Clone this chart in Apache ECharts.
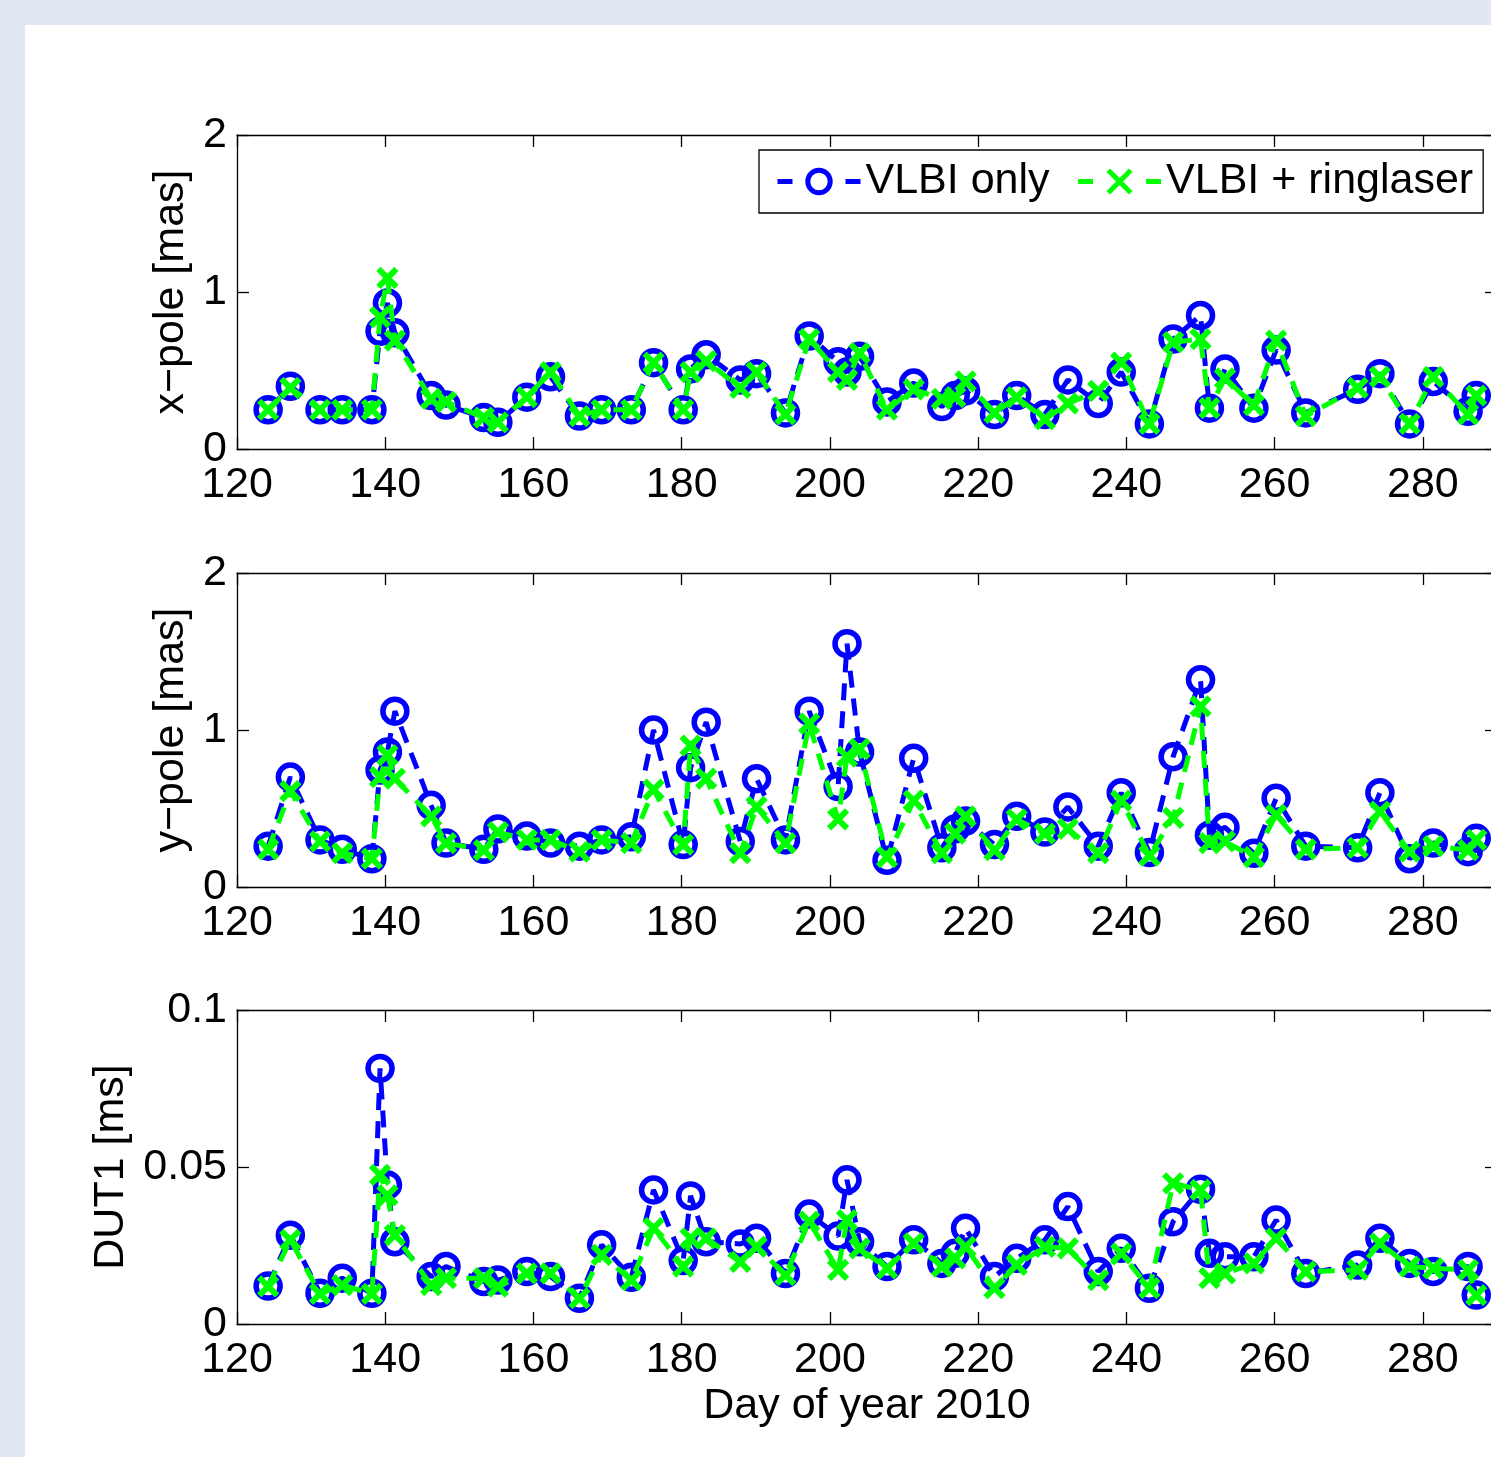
<!DOCTYPE html>
<html><head><meta charset="utf-8">
<script src="https://cdn.jsdelivr.net/npm/echarts@6/dist/echarts.min.js"></script>
<style>
html,body{margin:0;padding:0;background:#e1e7f3;overflow:hidden;width:1491px;height:1457px}
#c{position:absolute;left:25px;top:25px;width:1520px;height:1432px;background:#fff}
</style>
</head><body><div id="c"></div><script>
// Day of year 2010 (session epochs)
const days = [124.2,127.2,131.2,134.2,138.2,139.3,140.3,141.3,146.2,148.2,153.3,155.2,159.1,162.3,166.2,169.2,173.2,176.2,180.2,181.2,183.3,187.9,190.1,194.0,197.2,201.1,202.3,204.0,207.7,211.3,215.1,216.9,218.3,222.2,225.2,229.0,232.1,236.2,239.3,243.1,246.3,250.0,251.2,253.3,257.2,260.2,264.2,271.2,274.2,278.2,281.4,286.1,287.2];
// x-pole [mas]
const xpVLBI = [0.25,0.40,0.25,0.25,0.25,0.75,0.93,0.74,0.34,0.28,0.20,0.17,0.33,0.46,0.21,0.25,0.25,0.55,0.25,0.51,0.60,0.44,0.48,0.23,0.72,0.556,0.49,0.59,0.30,0.42,0.27,0.34,0.37,0.22,0.34,0.22,0.44,0.29,0.49,0.16,0.70,0.85,0.26,0.51,0.26,0.63,0.23,0.38,0.48,0.16,0.43,0.24,0.34];
const xpRing = [0.25,0.39,0.25,0.25,0.25,0.84,1.09,0.69,0.32,0.30,0.20,0.17,0.33,0.49,0.21,0.25,0.25,0.55,0.25,0.49,0.56,0.39,0.49,0.22,0.70,0.49,0.44,0.61,0.25,0.38,0.32,0.33,0.43,0.23,0.33,0.19,0.29,0.37,0.55,0.16,0.68,0.70,0.26,0.45,0.28,0.69,0.21,0.39,0.46,0.16,0.46,0.22,0.34];
// y-pole [mas]
const ypVLBI = [0.26,0.70,0.30,0.24,0.18,0.745,0.86,1.12,0.52,0.28,0.24,0.37,0.325,0.28,0.26,0.30,0.32,1.00,0.27,0.76,1.05,0.29,0.69,0.30,1.12,0.64,1.55,0.86,0.17,0.82,0.25,0.37,0.42,0.27,0.45,0.35,0.51,0.26,0.60,0.22,0.83,1.32,0.33,0.38,0.215,0.565,0.26,0.25,0.60,0.18,0.28,0.225,0.31];
const ypRing = [0.24,0.61,0.29,0.215,0.18,0.70,0.84,0.69,0.45,0.28,0.235,0.35,0.30,0.30,0.225,0.30,0.28,0.62,0.27,0.90,0.69,0.215,0.51,0.28,1.04,0.43,0.83,0.88,0.19,0.55,0.215,0.34,0.45,0.235,0.43,0.34,0.37,0.215,0.55,0.20,0.44,1.15,0.28,0.29,0.19,0.46,0.24,0.25,0.48,0.225,0.26,0.235,0.30];
// DUT1 [ms]
const dutVLBI = [0.0121,0.0283,0.0098,0.0146,0.0098,0.0814,0.0443,0.0262,0.0151,0.0183,0.0135,0.0140,0.0167,0.0151,0.0082,0.0252,0.0149,0.0427,0.0202,0.0408,0.0262,0.0255,0.0273,0.0161,0.0350,0.0280,0.0459,0.0262,0.0183,0.0268,0.0193,0.0225,0.0305,0.0151,0.0209,0.0268,0.0374,0.0167,0.0241,0.0114,0.0326,0.0429,0.0225,0.0214,0.0214,0.0331,0.0161,0.0188,0.0273,0.0193,0.0167,0.0183,0.0092];
const dutRing = [0.0120,0.0268,0.0096,0.0124,0.0096,0.0475,0.0410,0.0283,0.0124,0.0146,0.0146,0.0119,0.0161,0.0161,0.0082,0.0220,0.0140,0.0305,0.0183,0.0273,0.0273,0.0198,0.0246,0.0156,0.0326,0.0172,0.0331,0.0241,0.0177,0.0257,0.0183,0.0209,0.0246,0.0114,0.0188,0.0246,0.0241,0.0140,0.0225,0.0114,0.0448,0.0427,0.0146,0.0161,0.0193,0.0273,0.0167,0.0172,0.0257,0.0183,0.0177,0.0172,0.0092];
const xTicks = [120,140,160,180,200,220,240,260,280];
const yNames = ['x\u2212pole [mas]','y\u2212pole [mas]','DUT1 [ms]'];
const yMax = [2,2,0.1];
const yInterval = [1,1,0.05];
const xLabel = 'Day of year 2010';

const FONT = 'Liberation Sans, Arial, Helvetica, sans-serif';
const FS = 43;
const panelTops = [110,548,985];
const gridH = 314, gridL = 212, gridW = 1260;
const nameGaps = [44,44,102];

const grids = [], xAxes = [], yAxes = [], series = [];
const tickStyle = {inside:true,length:12,lineStyle:{color:'#000',width:1.3}};
const lineAx = {show:true,onZero:false,lineStyle:{color:'#000',width:1.3}};
for (let i=0;i<3;i++){
  grids.push({left:gridL,top:panelTops[i],width:gridW,height:gridH,show:false});
  xAxes.push({type:'value',gridIndex:i,position:'bottom',min:120,max:290,interval:20,
    axisLine:lineAx,axisTick:tickStyle,splitLine:{show:false},
    axisLabel:{fontSize:FS,fontFamily:FONT,color:'#000',margin:15,showMaxLabel:false,
      formatter:v=>xTicks.indexOf(v)>=0?String(v):''},
    name:i===2?xLabel:'',nameLocation:'middle',nameGap:61,
    nameTextStyle:{fontSize:FS,fontFamily:FONT,color:'#000'}});
  xAxes.push({type:'value',gridIndex:i,position:'top',min:120,max:290,interval:20,
    axisLine:lineAx,axisTick:tickStyle,splitLine:{show:false},axisLabel:{show:false}});
  yAxes.push({type:'value',gridIndex:i,position:'left',min:0,max:yMax[i],interval:yInterval[i],
    axisLine:lineAx,axisTick:tickStyle,splitLine:{show:false},
    axisLabel:{fontSize:FS,fontFamily:FONT,color:'#000',margin:10},
    name:yNames[i],nameLocation:'middle',nameGap:nameGaps[i],
    nameTextStyle:{fontSize:FS,fontFamily:FONT,color:'#000'}});
  yAxes.push({type:'value',gridIndex:i,position:'right',min:0,max:yMax[i],interval:yInterval[i],
    axisLine:lineAx,axisTick:tickStyle,splitLine:{show:false},axisLabel:{show:false}});
}
const blueData = [xpVLBI,ypVLBI,dutVLBI];
const greenData = [xpRing,ypRing,dutRing];
const zip = a => days.map((d,k)=>[d,a[k]]);
for (let i=0;i<3;i++){
  series.push({type:'line',name:'VLBI only',xAxisIndex:2*i,yAxisIndex:2*i,data:zip(blueData[i]),
    symbol:'circle',symbolSize:24,showAllSymbol:true,
    itemStyle:{color:'rgba(0,0,0,0)',borderColor:'#0000ff',borderWidth:5.5},
    lineStyle:{color:'#0000ff',width:5,type:[17,11]},z:2});
  series.push({type:'line',name:'VLBI + ringlaser',xAxisIndex:2*i,yAxisIndex:2*i,data:zip(greenData[i]),
    symbol:'path://M0,0L10,10M10,0L0,10',symbolSize:18,showAllSymbol:true,
    itemStyle:{color:'rgba(0,0,0,0)',borderColor:'#00ff00',borderWidth:6},
    lineStyle:{color:'#00ff00',width:5,type:[17,11]},z:3});
}
const chart = echarts.init(document.getElementById('c'),null,{renderer:'canvas'});
chart.setOption({
  animation:false,
  backgroundColor:'#fff',
  grid:grids,xAxis:xAxes,yAxis:yAxes,series:series,
  legend:{left:734,top:125,itemWidth:83,itemHeight:28,itemGap:26,
    padding:[10,10,10,16],backgroundColor:'#fff',borderColor:'#000',borderWidth:1.3,
    lineStyle:{type:[15,53],width:5},
    itemStyle:{borderWidth:5},
    textStyle:{fontSize:FS,fontFamily:FONT,color:'#000'},
    data:['VLBI only','VLBI + ringlaser']}
});
</script></body></html>
